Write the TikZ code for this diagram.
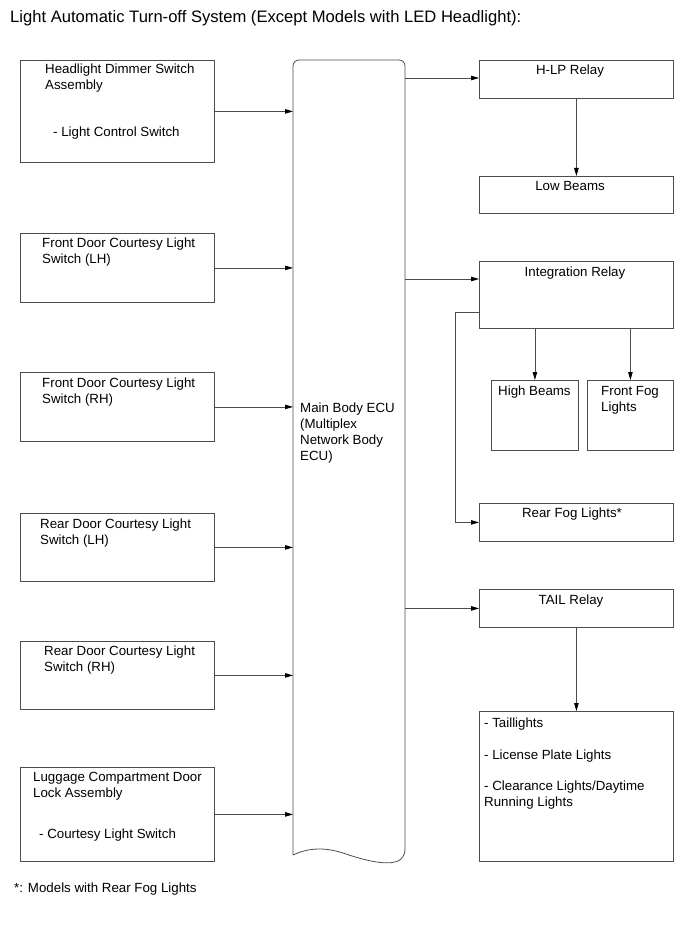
\documentclass[tikz,border=0pt]{standalone}
\usepackage{fontspec}
\setmainfont{Liberation Sans}
\usetikzlibrary{arrows.meta}
% first-line baseline for stacked text
\newcommand{\ml}[1]{\begin{tabular}[t]{@{}l@{}}#1\end{tabular}}

\begin{document}
\begin{tikzpicture}[
  x=1pt, y=-1pt,
  box/.style={draw=black!70, line width=0.8pt, anchor=north west, inner sep=0pt},
  txt/.style={inner sep=0pt, anchor=base west, font=\fontsize{13.3}{16}\selectfont},
  ctxt/.style={txt, anchor=base},
  wire/.style={draw=black!70, line width=0.8pt},
  arr/.style={wire, -{Triangle[length=8pt,width=4.5pt,color=black]}}
]
\useasboundingbox (0,0) rectangle (690,952);

\node[txt, font=\fontsize{16.6}{19}\selectfont] (title) at (10,23)
  {Light Automatic Turn-off System (Except Models with LED Headlight):};

% inputs
\node[box, minimum width=194, minimum height=102] (dimmer) at (20,60) {};
\node[box, minimum width=194, minimum height=69] (fdlh) at (20,233) {};
\node[box, minimum width=194, minimum height=69] (fdrh) at (20,372) {};
\node[box, minimum width=194, minimum height=68] (rdlh) at (20,513) {};
\node[box, minimum width=194, minimum height=68] (rdrh) at (20,641) {};
\node[box, minimum width=194, minimum height=94] (lugg) at (20,767) {};

\node[txt] (dimmertxt) at (45,74) {\ml{Headlight Dimmer Switch\\Assembly}};
\node[txt] (dimmersw) at (53,137) {- Light Control Switch};
\node[txt] (fdlhtxt) at (42,247) {\ml{Front Door Courtesy Light\\Switch (LH)}};
\node[txt] (fdrhtxt) at (42,387) {\ml{Front Door Courtesy Light\\Switch (RH)}};
\node[txt] (rdlhtxt) at (40,528) {\ml{Rear Door Courtesy Light\\Switch (LH)}};
\node[txt] (rdrhtxt) at (44,655) {\ml{Rear Door Courtesy Light\\Switch (RH)}};
\node[txt] (luggtxt) at (33,781) {\ml{Luggage Compartment Door\\Lock Assembly}};
\node[txt] (luggsw) at (39,838) {- Courtesy Light Switch};

% ECU
\node[anchor=north west, minimum width=112, minimum height=796, inner sep=0pt] (ecu) at (293,60) {};
\draw[wire] (293,855) [rounded corners=6pt] |- (349,60) -| (405,856) [sharp corners]
  .. controls (392,866) and (370,862) .. (349,855)
  .. controls (330,848) and (312,846) .. (293,855);
\node[txt] (ecutxt) at (300,412) {\ml{Main Body ECU\\(Multiplex\\Network Body\\ECU)}};

% outputs
\node[box, minimum width=194, minimum height=38] (hlp) at (479,60) {};
\node[box, minimum width=194, minimum height=37] (lowbeam) at (479,176) {};
\node[box, minimum width=194, minimum height=67] (intrel) at (479,261) {};
\node[box, minimum width=87, minimum height=70] (hibeam) at (491,380) {};
\node[box, minimum width=86, minimum height=70] (ffog) at (587,380) {};
\node[box, minimum width=194, minimum height=38] (rearfog) at (479,503) {};
\node[box, minimum width=194, minimum height=38] (tail) at (479,589) {};
\node[box, minimum width=194, minimum height=150] (lights) at (479,711) {};

\node[ctxt] (hlptxt) at (570,75) {H-LP Relay};
\node[ctxt] (lowtxt) at (570,190) {Low Beams};
\node[ctxt] (inttxt) at (575,276) {Integration Relay};
\node[txt] (hitxt) at (498,395) {High Beams};
\node[txt] (ffogtxt) at (601,395) {\ml{Front Fog\\Lights}};
\node[ctxt] (rftxt) at (572,517) {Rear Fog Lights*};
\node[ctxt] (tailtxt) at (571,604) {TAIL Relay};
\node[txt] (lt1) at (484,727) {- Taillights};
\node[txt] (lt2) at (484,759) {- License Plate Lights};
\node[txt] (lt3) at (484,790) {\ml{- Clearance Lights/Daytime\\Running Lights}};

\node[txt] (note) at (14,892) {*: Models with Rear Fog Lights};

% connections
\foreach \n in {dimmer,fdlh,fdrh,rdlh,rdrh,lugg}
  \draw[arr] (\n) -- (\n -| ecu.west);
\draw[arr] (ecu.east |- 0,78) -- (hlp.west |- 0,78);
\draw[arr] (ecu.east |- 0,279) -- (intrel.west |- 0,279);
\draw[arr] (tail -| ecu.east) -- (tail);
\draw[arr] (hlp) -- (lowbeam);
\draw[arr] (intrel.south -| hibeam) -- (hibeam);
\draw[arr] (intrel.south -| ffog) -- (ffog);
\coordinate (bend) at (455,312);
\draw[arr] (intrel.west |- bend) -- (bend) |- (rearfog);
\draw[arr] (tail) -- (lights);
\end{tikzpicture}
\end{document}
